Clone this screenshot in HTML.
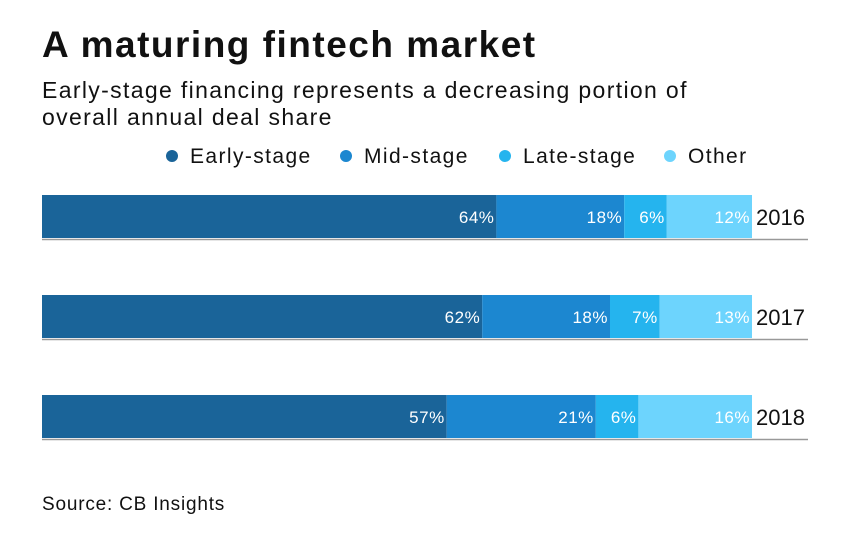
<!DOCTYPE html>
<html><head><meta charset="utf-8"><style>
body{margin:0;background:#fff;font-family:"Liberation Sans",sans-serif;}
#wrap{position:relative;width:844px;height:550px;overflow:hidden;}
.t{position:absolute;color:#111;white-space:nowrap;}
</style></head><body>
<div id="wrap">
<div class="t" style="left:42px;top:24px;font-size:37px;font-weight:bold;letter-spacing:1.5px;">A maturing fintech market</div>
<div class="t" style="left:42px;top:77px;font-size:23px;line-height:27px;letter-spacing:1.35px;">Early-stage financing represents a decreasing portion of<br>overall annual deal share</div>
<div class="t" style="left:42px;top:494px;font-size:19px;letter-spacing:0.8px;">Source: CB Insights</div>
<svg id="svg" width="844" height="550" style="position:absolute;left:0;top:0"></svg>
</div>
<script>
const years=["2016","2017","2018"];
const seriesNames=["Early-stage","Mid-stage","Late-stage","Other"];
const early=[64,62,57];
const mid=[18,18,21];
const late=[6,7,6];
const other=[12,13,16];
const colors=["#1a6499","#1c87d0","#25b4ee","#6dd4fd"];
const legendX=[166,340,499,664];
const NS="http://www.w3.org/2000/svg";
const svg=document.getElementById('svg');
const x0=42,plotW=710;
const xs=v=>x0+v/100*plotW;
const ys=i=>195+i*100;
const barH=43;
function mk(tag,attrs){const e=document.createElementNS(NS,tag);for(const k in attrs)e.setAttribute(k,attrs[k]);svg.appendChild(e);return e;}
seriesNames.forEach((n,j)=>{
  const c=mk('circle',{cx:legendX[j]+6,cy:156,r:6,fill:colors[j]});
  
  
  const t=mk('text',{x:legendX[j]+24,y:163,'font-size':21,'letter-spacing':1.4,fill:'#111','font-family':'Liberation Sans, sans-serif'});
  t.textContent=n;
  
  
});
const series=[early,mid,late,other];
years.forEach((yr,i)=>{
  const g=mk('line',{x1:42,x2:808,y1:ys(i)+barH+1.5,y2:ys(i)+barH+1.5,stroke:'#999','stroke-width':1.5});
  
  
  let cum=0;
  series.forEach((s,j)=>{
    const v=s[i];
    const r=mk('rect',{x:xs(cum),y:ys(i),width:xs(cum+v)-xs(cum),height:barH,fill:colors[j]});
    
    
    cum+=v;
    const t=mk('text',{x:xs(cum)-2,y:ys(i)+28,'font-size':17,'letter-spacing':0.5,fill:'#fff','text-anchor':'end','font-family':'Liberation Sans, sans-serif'});
    t.textContent=v+'%';
    
    
  });
  const yl=mk('text',{x:756,y:ys(i)+30,'font-size':22,fill:'#111','font-family':'Liberation Sans, sans-serif'});
  yl.textContent=yr;
  
  
});
</script>
</body></html>
